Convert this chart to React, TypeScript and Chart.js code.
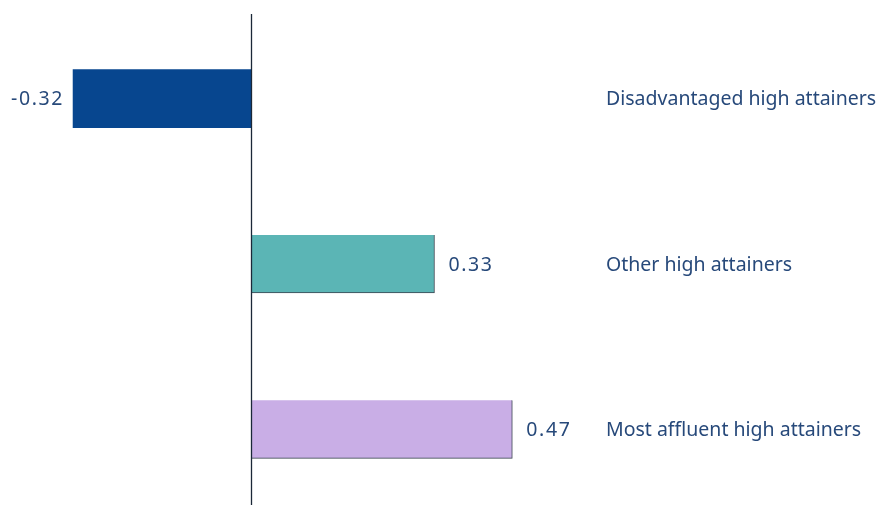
import React, { useEffect, useRef } from "react";
import { Chart, registerables } from "chart.js";

Chart.register(...registerables);

const categories = ["Disadvantaged high attainers", "Other high attainers", "Most affluent high attainers"];
const values = [-0.32, 0.33, 0.47];
const valueLabels = ["-0.32", "0.33", "0.47"];
const barColors = ["#07468F", "#5BB5B5", "#C9AEE6"];

const TEXT_COLOR = "#27497A";
const FONT = "19.5px 'Noto Sans'";

const labelPlugin = {
  id: "labels",
  afterDatasetsDraw(chart: any) {
    const ctx = chart.ctx;
    const xScale = chart.scales.x;
    const area = chart.chartArea;
    const meta = chart.getDatasetMeta(0);
    const zeroX = xScale.getPixelForValue(0);
    ctx.save();
    ctx.strokeStyle = "#1B2838";
    ctx.lineWidth = 1.3;
    ctx.beginPath();
    ctx.moveTo(Math.round(zeroX) + 0.5, area.top - 2);
    ctx.lineTo(Math.round(zeroX) + 0.5, area.bottom);
    ctx.stroke();
    ctx.font = FONT;
    ctx.fillStyle = TEXT_COLOR;
    ctx.textBaseline = "middle";
    meta.data.forEach((bar: any, i: number) => {
      const v = values[i];
      ctx.letterSpacing = "1.6px";
      if (v < 0) {
        ctx.textAlign = "right";
        ctx.fillText(valueLabels[i], bar.x - 9, bar.y + 1);
      } else {
        ctx.textAlign = "left";
        ctx.fillText(valueLabels[i], bar.x + 14, bar.y + 1);
      }
      ctx.letterSpacing = "0px";
      ctx.textAlign = "left";
      ctx.fillText(categories[i], xScale.getPixelForValue(0.6385), bar.y + 1);
    });
    ctx.restore();
  },
};

export default function App() {
  const ref = useRef<HTMLCanvasElement>(null);
  useEffect(() => {
    if (!ref.current) return;
    const chart = new Chart(ref.current, {
      type: "bar",
      data: {
        labels: categories,
        datasets: [
          {
            data: values,
            backgroundColor: barColors,
            borderColor: "#3A4450",
            borderWidth: values.map((v) => (v < 0 ? 0 : { top: 0, left: 0, right: 1, bottom: 1 })) as any,
            borderSkipped: false,
            barThickness: 58,
          },
        ],
      },
      options: {
        indexAxis: "y",
        animation: false,
        responsive: false,
        maintainAspectRatio: false,
        layout: { padding: { top: 16, bottom: 0, left: 0, right: 0 } },
        plugins: { legend: { display: false }, tooltip: { enabled: false } },
        scales: {
          x: { display: false, min: -0.4514, max: 1.1259 },
          y: { display: false },
        },
      },
      plugins: [labelPlugin],
    });
    return () => chart.destroy();
  }, []);
  return (
    <div style={{ position: "fixed", left: 0, top: 0, width: 877, height: 505, overflow: "hidden", background: "#fff" }}>
      <canvas ref={ref} width={877} height={512} style={{ display: "block" }} />
    </div>
  );
}
